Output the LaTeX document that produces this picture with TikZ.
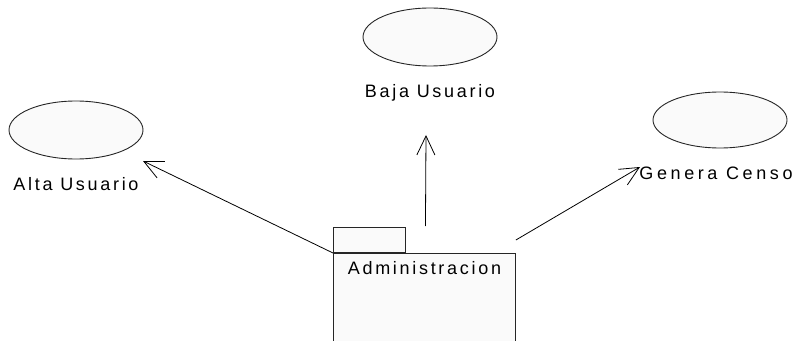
\documentclass[tikz,border=0pt]{standalone}
\usepackage{fontspec}
\setmainfont{Liberation Sans}[LetterSpace=15]
\usepackage{tikz}
\usetikzlibrary{shapes,arrows.meta,positioning}
\definecolor{umlfill}{HTML}{FAFAFA}
\tikzstyle{usecase} = [ellipse, minimum width=134pt, minimum height=58pt, inner sep=0pt, draw=black!85, fill=umlfill, line width=0.9pt]
\tikzstyle{caption} = [font=\fontsize{18}{20}\selectfont, inner sep=0pt, anchor=base]
\tikzstyle{pkgbody} = [rectangle, minimum width=182pt, minimum height=100pt, inner sep=0pt, draw=black!85, fill=umlfill, line width=0.9pt, anchor=north west]
\tikzstyle{pkgtab} = [rectangle, minimum width=72pt, minimum height=25pt, inner sep=0pt, draw=black!85, fill=umlfill, line width=0.9pt, anchor=south west]
\tikzstyle{arrow} = [line width=0.8pt, -{Straight Barb[length=19pt,width=18pt]}]

\begin{document}
\begin{tikzpicture}[x=1pt, y=1pt, node distance=31pt]
        \useasboundingbox (0,0) rectangle (799,340);
        \node (alta) [usecase] at (76,210) {};
        \node (baja) [usecase] at (430,303) {};
        \node (genera) [usecase, minimum height=56pt] at (720,220) {};
        \node (altaTxt) [caption, below=of alta.south, anchor=base] {Alta Usuario};
        \node (bajaTxt) [caption, below=of baja.south, anchor=base] {Baja Usuario};
        \node (generaTxt) [caption, below=of genera.south, anchor=base, xshift=-4pt] {\addfontfeature{LetterSpace=20}Genera Censo};
        \node (admin) [pkgbody] at (333,87) {};
        \node (tab) [pkgtab] at (admin.north west) {};
        \node (adminTxt) [caption, below=21pt of admin.north, anchor=base] {Administracion};
        \coordinate (altaTip) at (143,179);
        \coordinate (bajaTip) at (426,205);
        \coordinate (generaTip) at (640,173);
        \draw [arrow] (admin.north west) -- (altaTip);
        \draw [arrow] (admin.north) ++(1,27) -- (bajaTip);
        \draw [arrow] (admin.north east) ++(0,13) -- (generaTip);
\end{tikzpicture}
\end{document}
